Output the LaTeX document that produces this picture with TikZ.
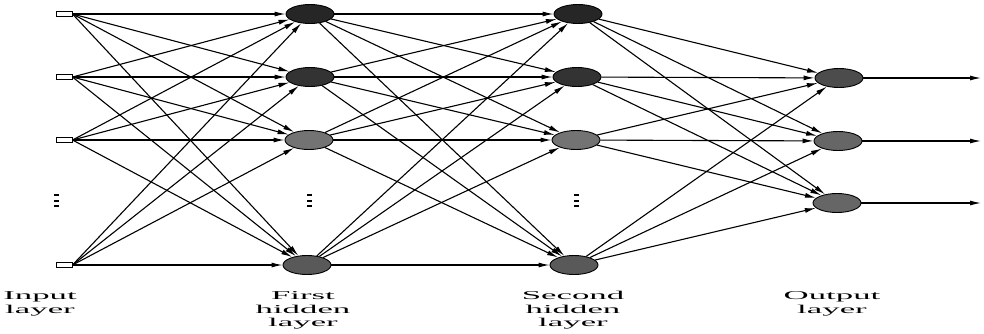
\documentclass[tikz,border=0pt]{standalone}
\usepackage{fontspec}
\usepackage{graphicx}
\setmainfont{Liberation Serif}
\usetikzlibrary{shapes.geometric,arrows.meta}
\newcommand{\stlab}[1]{\scalebox{2.9}[1]{\begin{tabular}{@{}c@{}}#1\end{tabular}}}
\begin{document}
\begin{tikzpicture}[x=1pt,y=-1pt,
  neuron/.style={ellipse,draw=black,line width=0.9pt,minimum width=48pt,minimum height=19pt,inner sep=0pt},
  inp/.style={rectangle,draw=black,line width=1pt,fill=white,minimum width=16pt,minimum height=5pt,inner sep=0pt},
  conn/.style={line width=1.1pt,-{Latex[length=11pt,width=5pt]}},
  lbl/.style={anchor=north,inner sep=0pt,font=\fontsize{12}{13.5}\selectfont},
  vdot/.style={fill=black,minimum width=5pt,minimum height=1.6pt,inner sep=0pt}]
\useasboundingbox (0,0) rectangle (984,333);
% input layer
\node[inp] (i1) at (64,14) {};
\node[inp] (i2) at (64,77) {};
\node[inp] (i3) at (64,140) {};
\node[inp] (i4) at (64,265) {};
% first hidden
\node[neuron,fill=black!85] (h1) at (310,14) {};
\node[neuron,fill=black!80] (h2) at (310,77) {};
\node[neuron,fill=black!55] (h3) at (309,140) {};
\node[neuron,fill=black!65] (h4) at (307,265) {};
% second hidden
\node[neuron,fill=black!85] (g1) at (578,14) {};
\node[neuron,fill=black!80] (g2) at (577,77) {};
\node[neuron,fill=black!55] (g3) at (576,140) {};
\node[neuron,fill=black!65] (g4) at (574,265) {};
% output
\node[neuron,fill=black!70] (o1) at (839,78) {};
\node[neuron,fill=black!60] (o2) at (838,141) {};
\node[neuron,fill=black!60] (o3) at (837,203) {};
\coordinate (e1) at (981,78);
\coordinate (e2) at (981,141);
\coordinate (e3) at (981,203);
% vertical dots
\foreach \x/\n in {56/a,309/b,576/c}{
  \node[vdot] (d\n1) at (\x,195) {};
  \node[vdot] (d\n2) at (\x,201) {};
  \node[vdot] (d\n3) at (\x,206) {};
}
% connections
\foreach \s in {1,2,3,4}{
  \foreach \t in {1,2,3,4}{
    \draw[conn] (i\s.east) -- (h\t);
    \draw[conn] (h\s) -- (g\t);
  }
  \foreach \t in {1,2,3}{
    \draw[conn] (g\s) -- (o\t);
  }
}
\foreach \t in {1,2,3}{
  \draw[conn] (o\t) -- (e\t);
}
% labels
\node[lbl] (l1) at (40,290) {\stlab{Input\\layer}};
\node[lbl] (l2) at (303,290) {\stlab{First\\hidden\\layer}};
\node[lbl] (l3) at (573,290) {\stlab{Second\\hidden\\layer}};
\node[lbl] (l4) at (832,290) {\stlab{Output\\layer}};
\end{tikzpicture}
\end{document}
